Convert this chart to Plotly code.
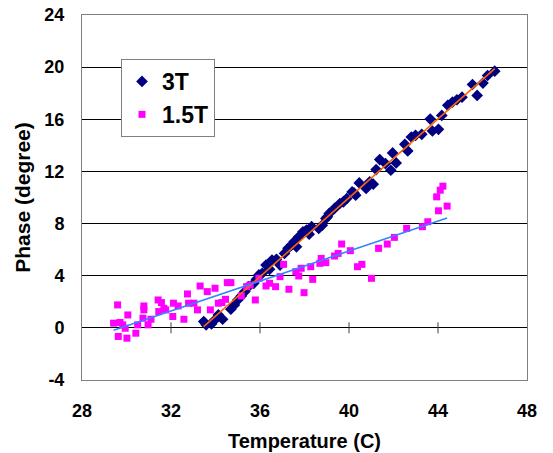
import numpy as np
import plotly.graph_objects as go

# ---- data ----
t3_x = [33.47, 33.58, 33.82, 33.94, 34.13, 34.32, 34.69, 34.85, 35.00, 35.16,
        35.32, 35.48, 35.72, 35.84, 35.95, 36.10, 36.27, 36.43, 36.54, 36.74,
        36.90, 37.10, 37.26, 37.42, 37.53, 37.64, 37.74, 37.93, 38.09, 38.21,
        38.32, 38.64, 38.80, 38.96, 39.03, 39.11, 39.35, 39.59, 39.75, 39.90,
        40.14, 40.22, 40.30, 40.46, 40.77, 40.93, 41.09, 41.22, 41.38, 41.64,
        41.88, 41.96, 42.12, 42.51, 42.64, 42.80, 42.99, 43.27, 43.65, 43.75,
        44.02, 44.17, 44.44, 44.65, 44.85, 45.08, 45.55, 45.76, 46.02, 46.23,
        46.55]
t3_y = [0.48, 0.23, 0.30, 0.56, 1.00, 0.66, 1.43, 1.76, 2.14, 2.45,
        2.78, 3.16, 3.42, 3.72, 4.06, 4.18, 4.82, 4.49, 5.20, 5.26,
        4.82, 5.71, 6.10, 6.35, 6.60, 6.22, 6.99, 7.37, 7.50, 7.19,
        7.76, 7.63, 7.88, 8.39, 8.52, 8.78, 9.16, 9.54, 9.67, 9.92,
        10.43, 10.36, 10.18, 11.12, 10.69, 11.20, 11.02, 12.14, 12.91, 12.60,
        12.09, 13.42, 12.65, 14.08, 13.57, 14.64, 14.77, 14.85, 16.02, 15.10,
        15.23, 16.30, 17.07, 17.32, 17.50, 17.70, 18.67, 17.83, 18.78, 19.36,
        19.69]

t15_x = [29.42, 29.60, 29.63, 29.71, 29.83, 29.94, 30.02, 30.06, 30.42, 30.50,
         30.74, 30.78, 30.78, 30.97, 31.10, 31.42, 31.45, 31.57, 31.68, 31.76,
         32.08, 32.11, 32.32, 32.58, 32.74, 32.79, 33.03, 33.19, 33.31, 33.63,
         33.77, 33.98, 34.13, 34.29, 34.45, 34.53, 34.69, 35.16, 35.40, 35.56,
         35.79, 35.95, 36.27, 36.43, 36.70, 36.90, 37.06, 37.30, 37.61, 37.74,
         37.85, 37.98, 38.28, 38.37, 38.69, 38.75, 38.96, 39.35, 39.51, 39.67,
         40.06, 40.38, 40.58, 41.01, 41.33, 41.72, 42.04, 42.59, 43.30, 43.54,
         43.94, 44.02, 44.10, 44.22, 44.41]
t15_y = [0.36, 1.76, -0.66, 0.41, 0.23, -0.03, -0.79, 0.99, -0.41, 0.23,
         0.74, 1.68, 1.38, 0.23, 0.66, 2.14, 1.25, 1.94, 1.50, 1.38,
         0.87, 1.89, 1.68, 0.66, 2.60, 1.89, 1.89, 1.38, 3.21, 2.78,
         1.38, 3.04, 1.89, 1.94, 2.19, 3.47, 3.47, 2.45, 3.16, 3.29,
         2.14, 3.80, 3.21, 3.42, 3.16, 3.93, 4.87, 2.96, 4.31, 3.98,
         4.57, 2.70, 4.69, 3.72, 4.95, 5.33, 5.00, 5.51, 5.71, 6.43,
         5.92, 4.69, 4.87, 3.80, 6.10, 6.43, 6.94, 7.63, 7.76, 8.14,
         10.05, 8.98, 10.56, 10.87, 9.34]

x_ticks = [28, 32, 36, 40, 44, 48]
y_ticks = [-4, 0, 4, 8, 12, 16, 20, 24]
y_tick_text = ["-4", "0", "4", "8", "12", "16", "20", "24"]

series_names = ["3T", "1.5T"]

# ---- linear trendlines (least squares, like Excel) ----
def trend(xs, ys):
    xs = np.asarray(xs)
    ys = np.asarray(ys)
    k, b = np.polyfit(xs, ys, 1)
    xx = np.array([xs.min(), xs.max()])
    return xx, k * xx + b

tr3_x, tr3_y = trend(t3_x, t3_y)
tr15_x, tr15_y = trend(t15_x, t15_y)

FONT = "Liberation Sans, Arial, sans-serif"

fig = go.Figure()
fig.add_trace(go.Scatter(
    x=t3_x, y=t3_y, mode="markers", name=series_names[0],
    marker=dict(symbol="diamond", size=9, color="#000080", line=dict(width=0)),
))
fig.add_trace(go.Scatter(
    x=t15_x, y=t15_y, mode="markers", name=series_names[1],
    marker=dict(symbol="square", size=7, color="#FF00FF", line=dict(width=0)),
))
fig.add_trace(go.Scatter(
    x=tr3_x, y=tr3_y, mode="lines", showlegend=False, hoverinfo="skip",
    line=dict(color="#FF6600", width=1.6),
))
fig.add_trace(go.Scatter(
    x=tr15_x, y=tr15_y, mode="lines", showlegend=False, hoverinfo="skip",
    line=dict(color="#3385FF", width=1.6),
))

# cross tick marks on the x axis that sits at y = 0
for xv in x_ticks[1:-1]:
    fig.add_shape(type="line", xref="x", yref="y", x0=xv, x1=xv, y0=-0.42, y1=0.42,
                  line=dict(color="#404040", width=1), layer="above")

fig.update_layout(
    width=553, height=453,
    margin=dict(l=82, r=26, t=15, b=73, autoexpand=False),
    paper_bgcolor="white", plot_bgcolor="white",
    font=dict(family=FONT, color="black"),
    showlegend=True,
    legend=dict(
        x=(121 - 82) / 445, y=(380 - 59) / 365, xanchor="left", yanchor="top",
        bgcolor="white", bordercolor="#808080", borderwidth=1,
        font=dict(family=FONT, size=23, color="black", weight="bold"),
        tracegroupgap=0, itemwidth=30,
    ),
    xaxis=dict(
        range=[28, 48], tickvals=x_ticks, ticktext=[str(v) for v in x_ticks],
        showgrid=False, zeroline=False, ticks="", automargin=False,
        showline=True, linecolor="#808080", linewidth=1, mirror=True,
        tickfont=dict(family=FONT, size=18, color="black", weight="bold"),
        ticklabelstandoff=14,
        title=dict(text="Temperature (C)", standoff=14,
                   font=dict(family=FONT, size=20, color="black", weight="bold")),
    ),
    yaxis=dict(
        range=[-4, 24], tickvals=y_ticks, ticktext=y_tick_text,
        showgrid=True, gridcolor="#000000", gridwidth=1, zeroline=False, ticks="",
        automargin=False,
        showline=True, linecolor="#808080", linewidth=1, mirror=True,
        tickfont=dict(family=FONT, size=18, color="black", weight="bold"),
        ticklabelstandoff=13,
        title=dict(text="Phase (degree)", standoff=8,
                   font=dict(family=FONT, size=21, color="black", weight="bold")),
    ),
)

fig.write_html("out.html", config={"displayModeBar": False},
               post_script="document.body.style.margin='0';")
